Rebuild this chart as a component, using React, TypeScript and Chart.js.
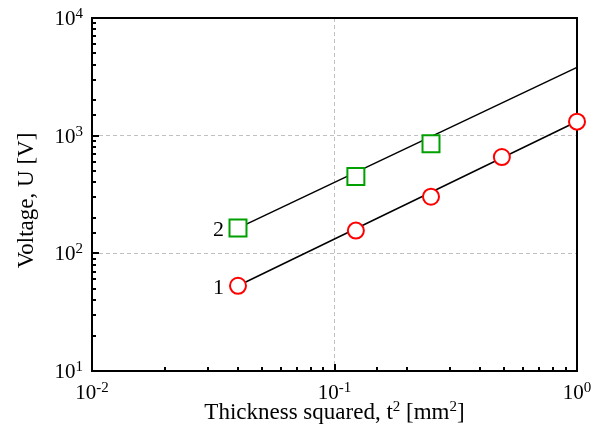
import React, { useEffect, useRef } from "react";
import { Chart, registerables } from "chart.js";

Chart.register(...registerables);

// Data
const thicknessSq1 = [0.04, 0.1225, 0.25, 0.49, 1.0];
const voltage1 = [53, 156, 303, 658, 1315];
const thicknessSq2 = [0.04, 0.1225, 0.25];
const voltage2 = [164, 450, 855];
const fitX = [0.04, 1.0];
const fit1 = [53, 1320];
const fit2 = [164, 3800];
const seriesNames = ["1", "2"];
const xTickExps = [-2, -1, 0];
const yTickExps = [1, 2, 3, 4];
const xTitle = "Thickness squared, t";
const yTitle = "Voltage, U [V]";

const SERIF = "'Liberation Serif', 'Times New Roman', serif";

function drawPow(ctx: CanvasRenderingContext2D, exp: number, x: number, baseline: number, align: "center" | "right") {
  ctx.save();
  ctx.fillStyle = "#000";
  ctx.textBaseline = "alphabetic";
  ctx.textAlign = "left";
  const baseFont = `21px ${SERIF}`;
  const expFont = `15px ${SERIF}`;
  ctx.font = baseFont;
  const wb = ctx.measureText("10").width;
  ctx.font = expFont;
  const es = String(exp);
  const we = ctx.measureText(es).width;
  const total = wb + we;
  const start = align === "center" ? x - total / 2 : x - total;
  ctx.font = baseFont;
  ctx.fillText("10", start, baseline);
  ctx.font = expFont;
  ctx.fillText(es, start + wb, baseline - 7);
  ctx.restore();
}

const decoPlugin = {
  id: "deco",
  beforeDatasetsDraw(chart: any) {
    const { ctx, chartArea } = chart;
    const { left, right, top, bottom } = chartArea;
    ctx.save();
    ctx.strokeStyle = "#000";
    ctx.lineWidth = 2;
    ctx.strokeRect(left, top, right - left, bottom - top);
    const xs = chart.scales.x;
    const ys = chart.scales.y;
    xs.ticks.forEach((t: any) => {
      const v = t.value;
      const lg = Math.log10(v);
      const major = Math.abs(lg - Math.round(lg)) < 1e-6;
      const px = Math.round(xs.getPixelForValue(v));
      if (px <= left + 1 || px >= right - 1) return;
      const len = major ? 7 : 4;
      ctx.beginPath();
      ctx.moveTo(px, bottom);
      ctx.lineTo(px, bottom - len);
      ctx.stroke();
    });
    ys.ticks.forEach((t: any) => {
      const v = t.value;
      const lg = Math.log10(v);
      const major = Math.abs(lg - Math.round(lg)) < 1e-6;
      const py = Math.round(ys.getPixelForValue(v));
      if (py <= top + 1 || py >= bottom - 1) return;
      const len = major ? 7 : 4;
      ctx.beginPath();
      ctx.moveTo(left, py);
      ctx.lineTo(left + len, py);
      ctx.stroke();
    });
    ctx.restore();
  },
  afterDraw(chart: any) {
    const { ctx, chartArea } = chart;
    const { left, right, top, bottom } = chartArea;
    const xs = chart.scales.x;
    const ys = chart.scales.y;
    xTickExps.forEach((e) => {
      drawPow(ctx, e, xs.getPixelForValue(Math.pow(10, e)), bottom + 28, "center");
    });
    yTickExps.forEach((e) => {
      drawPow(ctx, e, left - 9, ys.getPixelForValue(Math.pow(10, e)) + 7, "right");
    });
    ctx.save();
    ctx.fillStyle = "#000";
    ctx.textBaseline = "alphabetic";
    const f = `23px ${SERIF}`;
    const fs = `15px ${SERIF}`;
    const parts: [string, boolean][] = [[xTitle, false], ["2", true], [" [mm", false], ["2", true], ["]", false]];
    let total = 0;
    parts.forEach(([s, sup]) => {
      ctx.font = sup ? fs : f;
      total += ctx.measureText(s).width;
    });
    let cx = (left + right) / 2 - total / 2;
    const by = bottom + 48;
    ctx.textAlign = "left";
    parts.forEach(([s, sup]) => {
      ctx.font = sup ? fs : f;
      ctx.fillText(s, cx, sup ? by - 8 : by);
      cx += ctx.measureText(s).width;
    });
    ctx.font = f;
    ctx.textAlign = "center";
    ctx.translate(33, (top + bottom) / 2 + 6);
    ctx.rotate(-Math.PI / 2);
    ctx.fillText(yTitle, 0, 0);
    ctx.restore();
    ctx.save();
    ctx.font = `22px ${SERIF}`;
    ctx.fillStyle = "#000";
    ctx.textAlign = "right";
    ctx.textBaseline = "alphabetic";
    const lx = xs.getPixelForValue(thicknessSq1[0]) - 14;
    ctx.fillText(seriesNames[0], lx, ys.getPixelForValue(voltage1[0]) + 8);
    ctx.fillText(seriesNames[1], lx, ys.getPixelForValue(voltage2[0]) + 8);
    ctx.restore();
  },
};

export default function App() {
  const ref = useRef<HTMLCanvasElement>(null);
  useEffect(() => {
    if (!ref.current) return;
    const isMajor = (v: number) => {
      const lg = Math.log10(v);
      return Math.abs(lg - Math.round(lg)) < 1e-6;
    };
    const chart = new Chart(ref.current, {
      type: "scatter",
      data: {
        datasets: [
          {
            label: "1",
            data: thicknessSq1.map((x, i) => ({ x, y: voltage1[i] })),
            pointStyle: "circle",
            pointRadius: 8,
            pointBorderWidth: 2,
            pointBorderColor: "#ff0000",
            pointBackgroundColor: "#ffffff",
            showLine: false,
            clip: false as any,
          },
          {
            label: "2",
            data: thicknessSq2.map((x, i) => ({ x, y: voltage2[i] })),
            pointStyle: "rect",
            pointRadius: 12,
            pointBorderWidth: 2,
            pointBorderColor: "#00a000",
            pointBackgroundColor: "#ffffff",
            showLine: false,
            clip: false as any,
          },
          {
            label: "fit1",
            data: fitX.map((x, i) => ({ x, y: fit1[i] })),
            showLine: true,
            borderColor: "#000",
            borderWidth: 1.5,
            pointRadius: 0,
            clip: false as any,
          },
          {
            label: "fit2",
            data: fitX.map((x, i) => ({ x, y: fit2[i] })),
            showLine: true,
            borderColor: "#000",
            borderWidth: 1.5,
            pointRadius: 0,
            clip: false as any,
          },
        ],
      },
      options: {
        responsive: false,
        animation: false,
        devicePixelRatio: 1,
        layout: { padding: { left: 92, top: 18, right: 27, bottom: 67 } },
        plugins: { legend: { display: false }, tooltip: { enabled: false } },
        scales: {
          x: {
            type: "logarithmic",
            min: 0.01,
            max: 1,
            ticks: { display: false },
            border: { display: false, dash: [4, 3] },
            grid: {
              drawTicks: false,
              lineWidth: 1,
              color: (c: any) => (c.tick && isMajor(c.tick.value) ? "#c0c0c0" : "rgba(0,0,0,0)"),
            },
          },
          y: {
            type: "logarithmic",
            min: 10,
            max: 10000,
            ticks: { display: false },
            border: { display: false, dash: [4, 3] },
            grid: {
              drawTicks: false,
              lineWidth: 1,
              color: (c: any) => (c.tick && isMajor(c.tick.value) ? "#c0c0c0" : "rgba(0,0,0,0)"),
            },
          },
        },
      },
      plugins: [decoPlugin],
    });
    return () => chart.destroy();
  }, []);
  return (
    <canvas
      ref={ref}
      width={604}
      height={438}
      style={{ position: "absolute", left: 0, top: 0, width: 604, height: 438, background: "#fff" }}
    />
  );
}
